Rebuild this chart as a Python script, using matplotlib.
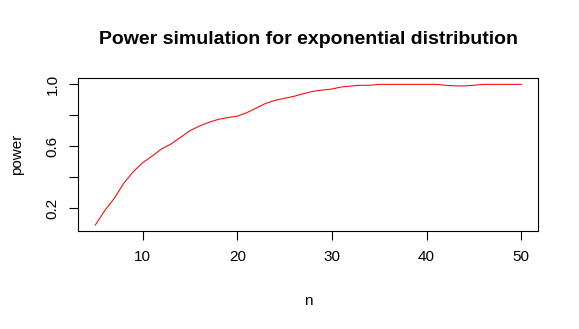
import numpy as np
import matplotlib
matplotlib.use("Agg")
from matplotlib import pyplot as plt

# sample sizes and simulated power
n = np.arange(5, 51)
power = [0.092, 0.185, 0.264, 0.361, 0.436, 0.494, 0.537, 0.583, 0.615, 0.658,
         0.701, 0.731, 0.755, 0.774, 0.785, 0.795, 0.817, 0.847, 0.877, 0.897,
         0.910, 0.923, 0.940, 0.955, 0.963, 0.970, 0.983, 0.989, 0.994, 0.994,
         1.000, 1.000, 1.000, 1.000, 1.000, 1.000, 1.000, 0.994, 0.990, 0.990,
         0.994, 1.000, 1.000, 1.000, 1.000, 1.000]
x_ticks = [10, 20, 30, 40, 50]
y_ticks = [0.2, 0.4, 0.6, 0.8, 1.0]
y_tick_labels = ["0.2", "", "0.6", "", "1.0"]

plt.rcParams['font.family'] = ['Liberation Sans', 'DejaVu Sans']

fig = plt.figure(figsize=(5.79, 3.29), dpi=100)
left, bottom, width, height = 0.1352, 0.298, 0.7945, 0.464
ax = fig.add_axes([left, bottom, width, height])

ax.plot(n, power, color='red', linewidth=0.75)

ax.set_xlim(3.2, 51.8)
ax.set_ylim(0.0535, 1.039)
ax.set_xticks(x_ticks)
ax.set_yticks(y_ticks)
ax.set_yticklabels(y_tick_labels, rotation=90, va='center')

ax.tick_params(axis='both', direction='out', length=6.5, width=0.8, labelsize=11, pad=7)
for s in ax.spines.values():
    s.set_linewidth(0.8)

cx = left + width / 2
fig.text(cx, 1 - 40 / 329, "Power simulation for exponential distribution",
         ha='center', va='center', fontsize=14, fontweight='bold')
fig.text(cx, 1 - 301 / 329, "n", ha='center', va='center', fontsize=11)
fig.text(17 / 579, bottom + height / 2, "power", ha='center', va='center',
         rotation=90, fontsize=11)

fig.savefig("out.png", dpi=100)
